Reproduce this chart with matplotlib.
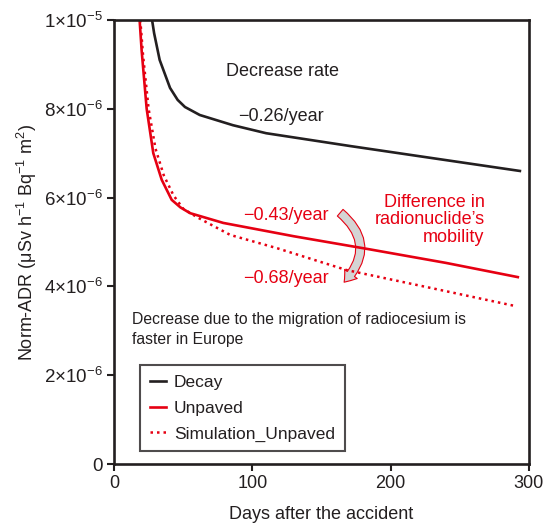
import matplotlib
matplotlib.use('Agg')
import matplotlib.pyplot as plt
from matplotlib.patches import FancyArrowPatch

plt.rcParams['font.family'] = ['Liberation Sans', 'DejaVu Sans']
plt.rcParams['mathtext.fontset'] = 'custom'
plt.rcParams['mathtext.rm'] = 'Liberation Sans'
plt.rcParams['mathtext.it'] = 'Liberation Sans:italic'

# data
decay_days = [27.5, 29, 33, 40.5, 46, 51.3, 62, 86, 110, 171, 230, 293.5]
decay_vals = [1.0e-5, 9.7e-6, 9.1e-6, 8.47e-6, 8.2e-6, 8.04e-6, 7.86e-6, 7.63e-6,
              7.45e-6, 7.16e-6, 6.89e-6, 6.6e-6]

unpaved_days = [18.5, 20, 23.6, 28.4, 34.5, 41.7, 48, 55, 79, 130, 184, 240, 292]
unpaved_vals = [1.0e-5, 9.3e-6, 8.0e-6, 7.0e-6, 6.4e-6, 5.95e-6, 5.78e-6, 5.65e-6,
                5.43e-6, 5.13e-6, 4.84e-6, 4.53e-6, 4.21e-6]

sim_days = [19, 21, 25, 30, 36, 43, 50, 60, 84, 118, 168, 230, 290]
sim_vals = [1.0e-5, 9.2e-6, 8.0e-6, 7.1e-6, 6.5e-6, 6.05e-6, 5.75e-6, 5.56e-6,
            5.16e-6, 4.86e-6, 4.37e-6, 3.96e-6, 3.56e-6]

y_ticks = [0, 2e-6, 4e-6, 6e-6, 8e-6, 1e-5]
y_ticklabels = ['0', r'$\mathregular{2{\times}10^{-6}}$', r'$\mathregular{4{\times}10^{-6}}$',
                r'$\mathregular{6{\times}10^{-6}}$', r'$\mathregular{8{\times}10^{-6}}$',
                r'$\mathregular{1{\times}10^{-5}}$']
x_ticks = [0, 100, 200, 300]

black = '#231f20'
red = '#e60012'

fig = plt.figure(figsize=(5.43, 5.25), dpi=100)
ax = fig.add_axes([0.21, 0.116, 0.764, 0.846])

ax.plot(decay_days, decay_vals, color=black, lw=1.9, label='Decay')
ax.plot(unpaved_days, unpaved_vals, color=red, lw=1.9, label='Unpaved')
ax.plot(sim_days, sim_vals, color=red, lw=1.8, linestyle=(0, (1, 1.6)), label='Simulation_Unpaved')

ax.set_xlim(0, 300)
ax.set_ylim(0, 1e-5)
ax.set_xticks(x_ticks)
ax.set_yticks(y_ticks)
ax.set_yticklabels(y_ticklabels)
ax.tick_params(direction='out', length=5, width=1.5, labelsize=13, colors=black, pad=3)
ax.tick_params(axis='y', labelsize=13.5)
for s in ax.spines.values():
    s.set_linewidth(1.9)
    s.set_color(black)

ax.set_xlabel('Days after the accident', fontsize=13, color=black, labelpad=10)
ax.set_ylabel(r'Norm-ADR (μSv h$^{-1}$ Bq$^{-1}$ m$^{2}$)', fontsize=13, color=black, labelpad=4)

# annotations
ax.text(122, 8.83e-6, 'Decrease rate', fontsize=13, color=black, ha='center', va='center')
ax.text(121, 7.82e-6, '\u22120.26/year', fontsize=13, color=black, ha='center', va='center')
ax.text(268, 5.5e-6, 'Difference in\nradionuclide\u2019s\nmobility', fontsize=13, color=red,
        ha='right', va='center', linespacing=1.05)
ax.text(124, 5.59e-6, '\u22120.43/year', fontsize=13, color=red, ha='center', va='center')
ax.text(124, 4.17e-6, '\u22120.68/year', fontsize=13, color=red, ha='center', va='center')
ax.text(13, 3.03e-6, 'Decrease due to the migration of radiocesium is\nfaster in Europe',
        fontsize=11.3, color=black, ha='left', va='center', linespacing=1.45)

arrow = FancyArrowPatch((162, 5.7e-6), (165, 4.05e-6), connectionstyle='arc3,rad=-0.55',
                        arrowstyle='simple,head_width=0.8,head_length=0.55,tail_width=0.45',
                        mutation_scale=14, facecolor='#d4d4d4', edgecolor=red, lw=0.8)
ax.add_patch(arrow)

leg = ax.legend(loc='lower left', bbox_to_anchor=(0.063, 0.029), fontsize=12.5, frameon=True,
                fancybox=False, handlelength=0.95, handletextpad=0.45, borderpad=0.55,
                labelspacing=0.62, borderaxespad=0)
leg.get_frame().set_edgecolor(black)
leg.get_frame().set_linewidth(1.5)
for t in leg.get_texts():
    t.set_color(black)

fig.savefig('out.png', dpi=100)
